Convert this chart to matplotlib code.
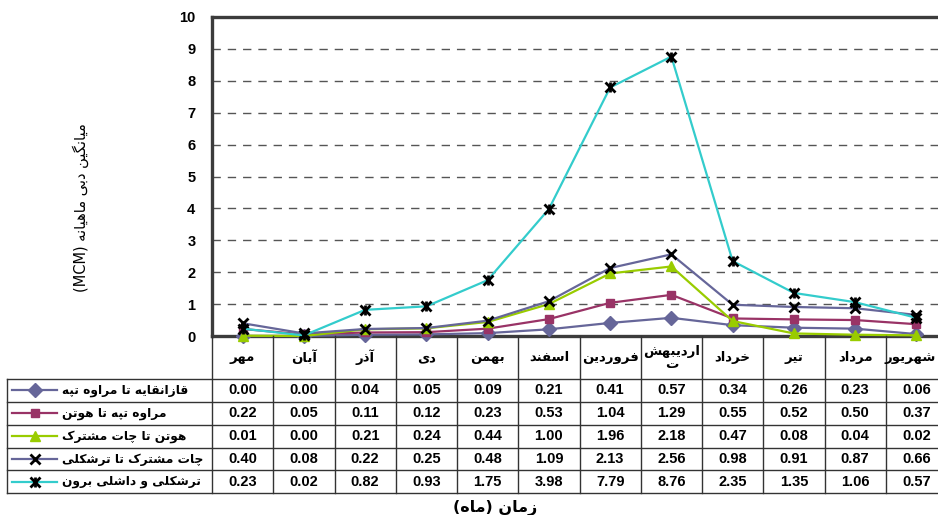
import matplotlib
matplotlib.use("Agg")
import matplotlib.pyplot as plt

# ---- data -------------------------------------------------------------
months = ["مهر", "آبان", "آذر", "دی", "بهمن", "اسفند", "فروردین",
          "اردیبهش\nت", "خرداد", "تیر", "مرداد", "شهریور"]
series_names = ["قازانقایه تا مراوه تپه", "مراوه تپه تا هوتن",
                "هوتن تا چات مشترک", "چات مشترک تا ترشکلی",
                "ترشکلی و داشلی برون"]
ghazanghayeh_maraveh = [0.00, 0.00, 0.04, 0.05, 0.09, 0.21, 0.41, 0.57, 0.34, 0.26, 0.23, 0.06]
maraveh_hootan = [0.22, 0.05, 0.11, 0.12, 0.23, 0.53, 1.04, 1.29, 0.55, 0.52, 0.50, 0.37]
hootan_chat = [0.01, 0.00, 0.21, 0.24, 0.44, 1.00, 1.96, 2.18, 0.47, 0.08, 0.04, 0.02]
chat_torshakli = [0.40, 0.08, 0.22, 0.25, 0.48, 1.09, 2.13, 2.56, 0.98, 0.91, 0.87, 0.66]
torshakli_dashli = [0.23, 0.02, 0.82, 0.93, 1.75, 3.98, 7.79, 8.76, 2.35, 1.35, 1.06, 0.57]
y_ticks = list(range(0, 11))
y_label = "میانگین دبی ماهیانه (MCM)"
x_label = "زمان (ماه)"

# ---- minimal Persian shaping (presentation forms, visual order) -------
FORMS = {
    'ا': ('\uFE8D', '\uFE8E', None, None),
    'آ': ('\uFE81', '\uFE82', None, None),
    'ب': ('\uFE8F', '\uFE90', '\uFE91', '\uFE92'),
    'پ': ('\uFB56', '\uFB57', '\uFB58', '\uFB59'),
    'ت': ('\uFE95', '\uFE96', '\uFE97', '\uFE98'),
    'چ': ('\uFB7A', '\uFB7B', '\uFB7C', '\uFB7D'),
    'خ': ('\uFEA5', '\uFEA6', '\uFEA7', '\uFEA8'),
    'د': ('\uFEA9', '\uFEAA', None, None),
    'ذ': ('\uFEAB', '\uFEAC', None, None),
    'ر': ('\uFEAD', '\uFEAE', None, None),
    'ز': ('\uFEAF', '\uFEB0', None, None),
    'س': ('\uFEB1', '\uFEB2', '\uFEB3', '\uFEB4'),
    'ش': ('\uFEB5', '\uFEB6', '\uFEB7', '\uFEB8'),
    'ف': ('\uFED1', '\uFED2', '\uFED3', '\uFED4'),
    'ق': ('\uFED5', '\uFED6', '\uFED7', '\uFED8'),
    'ک': ('\uFB8E', '\uFB8F', '\uFB90', '\uFB91'),
    'گ': ('\uFB92', '\uFB93', '\uFB94', '\uFB95'),
    'ل': ('\uFEDD', '\uFEDE', '\uFEDF', '\uFEE0'),
    'م': ('\uFEE1', '\uFEE2', '\uFEE3', '\uFEE4'),
    'ن': ('\uFEE5', '\uFEE6', '\uFEE7', '\uFEE8'),
    'ه': ('\uFEE9', '\uFEEA', '\uFEEB', '\uFEEC'),
    'و': ('\uFEED', '\uFEEE', None, None),
    'ی': ('\uFBFC', '\uFBFD', '\uFBFE', '\uFBFF'),
}
MIRROR = {'(': ')', ')': '('}


def _shape_line(s):
    s = s.replace('ي', 'ی').replace('ك', 'ک')
    out = []
    for i, c in enumerate(s):
        if c not in FORMS:
            out.append(c)
            continue
        prev = s[i - 1] if i > 0 else ''
        nxt = s[i + 1] if i + 1 < len(s) else ''
        prev_joins = prev in FORMS and FORMS[prev][2] is not None
        dual = FORMS[c][2] is not None
        next_joins = nxt in FORMS
        if prev_joins and dual and next_joins:
            out.append(FORMS[c][3])
        elif prev_joins:
            out.append(FORMS[c][1])
        elif dual and next_joins:
            out.append(FORMS[c][2])
        else:
            out.append(FORMS[c][0])
    vis = [MIRROR.get(ch, ch) for ch in reversed(out)]
    # keep latin runs left-to-right
    res, run = [], []
    for ch in vis:
        if ch.isascii() and ch.isalnum():
            run.append(ch)
        else:
            res.extend(reversed(run))
            run = []
            res.append(ch)
    res.extend(reversed(run))
    return ''.join(res)


def fa(s):
    return '\n'.join(_shape_line(line) for line in s.split('\n'))


# ---- figure -----------------------------------------------------------
W, H = 938, 515
fig = plt.figure(figsize=(W / 100, H / 100), dpi=100)
fig.patch.set_facecolor('white')

col_w = 61.25
x0_px, x1_px = 212, 212 + 12 * col_w
top_px, base_px = 17, 336
ax = fig.add_axes([x0_px / W, 1 - base_px / H, (x1_px - x0_px) / W, (base_px - top_px) / H])

num_font = dict(family='Liberation Sans', weight='bold')
fa_font = dict(family='DejaVu Sans', weight='bold')

xs = list(range(len(months)))
series = [ghazanghayeh_maraveh, maraveh_hootan, hootan_chat, chat_torshakli, torshakli_dashli]
styles = [
    dict(color='#666699', marker='D', ms=7, mfc='#666699', mec='#666699'),
    dict(color='#993366', marker='s', ms=6, mfc='#993366', mec='#993366'),
    dict(color='#99CC00', marker='^', ms=7, mfc='#99CC00', mec='#99CC00'),
    dict(color='#666699', marker='x', ms=7.5, mec='black', mew=2.0),
    dict(color='#33CCCC', marker='x', ms=7.5, mec='black', mew=2.0),
]
for i, (vals, st) in enumerate(zip(series, styles)):
    ax.plot(xs, vals, lw=1.6, zorder=3 + i, clip_on=False, **st)
# vertical stroke completing the star markers
ax.plot(xs, torshakli_dashli, ls='none', marker='|', ms=7, mec='black', mew=2.0,
        zorder=9, clip_on=False)

ax.set_xlim(-0.5, 11.5)
ax.set_ylim(0, 10)
ax.set_yticks(y_ticks)
ax.set_yticklabels([str(t) for t in y_ticks], fontsize=10.5, **num_font)
ax.tick_params(axis='y', length=0, pad=12)
ax.set_xticks([])
ax.yaxis.grid(True, color='#555555', lw=1.0, ls=(0, (6, 5)))
ax.set_axisbelow(True)
for side in ('left', 'top', 'bottom'):
    ax.spines[side].set_color('#3c3c3c')
    ax.spines[side].set_linewidth(2.4)
ax.spines['right'].set_visible(False)

# ---- data table under the plot ---------------------------------------
leg_left_px = 7.3
tb_bottom_px = 493.3
tax = fig.add_axes([leg_left_px / W, 1 - tb_bottom_px / H,
                    (x1_px - leg_left_px) / W, (tb_bottom_px - base_px) / H])
tx0 = -0.5 - (x0_px - leg_left_px) / col_w
tax.set_xlim(tx0, 11.5)
tb_h = tb_bottom_px - base_px
tax.set_ylim(tb_h, 0)
tax.axis('off')

head_h = 43.0
row_h = (tb_h - head_h) / len(series)
lc, lw_t = '#333333', 1.0
for k in range(13):
    tax.plot([k - 0.5, k - 0.5], [0, tb_h], color=lc, lw=lw_t, clip_on=False)
tax.plot([tx0, tx0], [head_h, tb_h], color=lc, lw=lw_t, clip_on=False)
for r in range(len(series) + 1):
    y = head_h + r * row_h
    tax.plot([tx0, 11.5], [y, y], color=lc, lw=lw_t, clip_on=False)

visible_right = tx0 + (W - 2 - leg_left_px) / col_w
for j, m in enumerate(months):
    t = tax.text(j, head_h / 2, fa(m), ha='center', va='center', fontsize=9.5,
                 linespacing=1.0, **fa_font)
    if j == len(months) - 1:
        # last column is narrower on the page: keep its header inside the frame
        t.set_x(visible_right)
        t.set_ha('right')

for r, (name, vals, st) in enumerate(zip(series_names, series, styles)):
    yc = head_h + (r + 0.5) * row_h
    for j, v in enumerate(vals):
        tax.text(j, yc, f"{v:.2f}", ha='center', va='center', fontsize=10.5, **num_font)
    # legend key
    kx0 = tx0 + 4.5 / col_w
    kx1 = tx0 + 50 / col_w
    kxm = (kx0 + kx1) / 2
    tax.plot([kx0, kx1], [yc, yc], color=st['color'], lw=1.6, clip_on=False)
    mk = {k: v for k, v in st.items() if k != 'color'}
    tax.plot([kxm], [yc], ls='none', clip_on=False, **mk)
    if r == 4:
        tax.plot([kxm], [yc], ls='none', marker='|', ms=7, mec='black', mew=2.0,
                 clip_on=False)
    tax.text(tx0 + 55 / col_w, yc, fa(name), ha='left', va='center', fontsize=8.8,
             **fa_font)

# ---- axis titles ------------------------------------------------------
fig.text(81 / W, 1 - 208 / H, fa(y_label), rotation=90, ha='center', va='center',
         fontsize=10.5, family='DejaVu Sans')
fig.text(495 / W, 1 - 508 / H, fa(x_label), ha='center', va='center',
         fontsize=11.5, **fa_font)

fig.savefig('out.png', dpi=100)
